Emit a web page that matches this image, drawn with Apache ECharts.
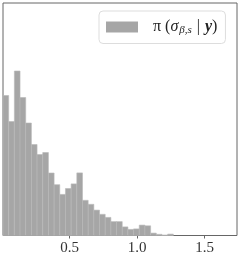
<!DOCTYPE html>
<html><head><meta charset="utf-8">
<script src="https://cdn.jsdelivr.net/npm/echarts@6/dist/echarts.min.js"></script>
<style>html,body{margin:0;padding:0;background:#fff}#c{width:241px;height:257px}</style>
</head><body><div id="c"></div>
<script>
// bin edges (left/right) of the histogram, in x units
const binEdges = [0.008,0.050,0.092,0.134,0.176,0.218,0.260,0.302,0.344,0.386,0.428,0.470,0.512,0.554,0.596,0.638,0.680,0.722,0.764,0.806,0.848,0.890,0.932,0.974,1.016,1.058,1.100,1.142,1.184,1.226,1.268];
// bar heights (arbitrary density units)
const heights = [140,114,164.5,138,112.5,91,81,83,62.5,50.8,41.1,47,51.6,62.6,35.2,31.2,25.4,21.2,18.1,13.9,13.9,8.6,6.1,6.6,10.4,9.7,2.4,1.2,0.5,1.4];
const xTicks = [0.5,1.0,1.5];
const xRange = [0.008,1.739];
const yMax = 232.5;
const seriesName = 'sigma';

const data = heights.map((h,i)=>[binEdges[i],binEdges[i+1],h]);
const chart = echarts.init(document.getElementById('c'),null,{renderer:'canvas'});
const serif = '"Liberation Serif", "DejaVu Serif", serif';
chart.setOption({
  animation:false,
  grid:{left:3,right:4,top:3,bottom:21.5,show:true,borderColor:'#666',borderWidth:1,backgroundColor:'transparent'},
  xAxis:{type:'value',min:xRange[0],max:xRange[1],
    axisLine:{show:false},splitLine:{show:false},
    axisTick:{show:true,length:3,lineStyle:{color:'#666'},customValues:xTicks},
    axisLabel:{customValues:xTicks,margin:5,fontSize:15,color:'#333',fontFamily:serif,formatter:v=>v.toFixed(1)}},
  yAxis:{type:'value',min:0,max:yMax,show:false,splitLine:{show:false}},
  legend:{left:99,top:11,width:130,
    backgroundColor:'#fff',borderColor:'#ddd',borderWidth:1,borderRadius:4,
    padding:[8,8,8,7],itemWidth:32,itemHeight:11,icon:'rect',
    data:[seriesName],
    formatter:()=>'{a|π (}{b|σ}{s|β,s}{p||}{y|y}{a|)}',
    textStyle:{padding:[0,0,0,10],rich:{
      a:{fontFamily:serif,fontSize:16,color:'#222'},
      p:{fontFamily:serif,fontSize:16,color:'#222',padding:[0,5,0,5]},
      b:{fontFamily:serif,fontSize:16,color:'#222',fontStyle:'italic'},
      s:{fontFamily:serif,fontSize:11,color:'#222',fontStyle:'italic',padding:[6,0,0,1]},
      y:{fontFamily:serif,fontSize:16,color:'#222',fontStyle:'italic',fontWeight:'bold'}
    }}},
  series:[{type:'custom',name:seriesName,data:data,
    encode:{x:[0,1],y:2},
    itemStyle:{color:'#a6a6a6'},
    renderItem:function(params,api){
      const s=api.coord([api.value(0),0]);
      const e=api.coord([api.value(1),api.value(2)]);
      return {type:'rect',shape:{x:s[0],y:e[1],width:e[0]-s[0],height:s[1]-e[1]},
        style:{fill:'#a6a6a6',stroke:'#b8b8b8',lineWidth:0.6}};
    }}]
});
</script></body></html>
